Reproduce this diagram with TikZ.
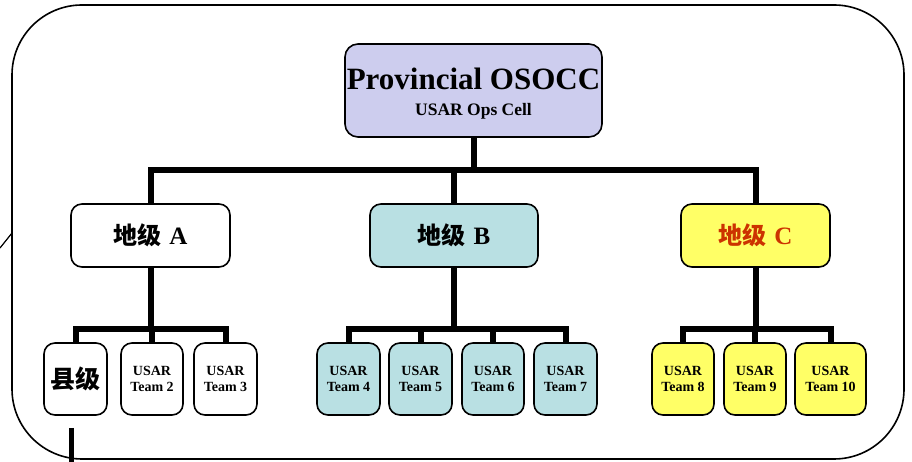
\documentclass[tikz,border=0pt]{standalone}
\usepackage{fontspec}
\setmainfont{Liberation Serif}
\newfontfamily\cjk{Noto Sans CJK SC}
\newcommand{\lvltxt}[1]{{\fontsize{24}{26}\selectfont\cjk\bfseries 地级}\hspace{8pt}{\fontsize{25}{26}\selectfont #1}}
\begin{document}
\begin{tikzpicture}[x=1pt,y=1pt,
  box/.style={draw=black,line width=1.6pt,rounded corners=11pt,inner sep=0pt,align=center,font=\bfseries},
  topbox/.style={box,fill=lavbox,minimum width=257pt,minimum height=93pt,rounded corners=13pt,font=\bfseries\fontsize{17.5}{26}\selectfont},
  midbox/.style={box,minimum height=63pt},
  teambox/.style={box,minimum height=72pt,font=\bfseries\fontsize{14}{16}\selectfont},
  conn/.style={line width=6pt,line cap=butt,line join=miter},
  thinconn/.style={line width=5pt},
  outer/.style={draw=black,line width=1.6pt,rounded corners=70pt}]
\definecolor{lavbox}{HTML}{CDCDEE}
\definecolor{tealbox}{HTML}{B9E0E3}
\definecolor{yelbox}{HTML}{FFFF66}
\definecolor{redtxt}{HTML}{CC3300}
\useasboundingbox (0,0) rectangle (912,462);
\fill[white] (0,0) rectangle (912,462);
% outer frame
\draw[outer] (12,3) rectangle (904,457);
\coordinate (s1) at (0,214);
\coordinate (s2) at (12,229);
\draw[line width=1.2pt] (s1) -- (s2);
% nodes
\node[topbox] (top) at (473.5,371.5) {\rule{0pt}{27pt}{\fontsize{31}{26}\selectfont Provincial OSOCC}\\{USAR Ops Cell}};
\node[midbox,fill=white,minimum width=159pt] (A) at (150.5,226.5) {\lvltxt{A}};
\node[midbox,fill=tealbox,minimum width=168pt] (B) at (454,226.5) {\lvltxt{B}};
\node[midbox,fill=yelbox,minimum width=149pt,text=redtxt] (C) at (755.5,226.5) {\lvltxt{C}};
\node[teambox,fill=white,minimum width=63pt] (X) at (75.5,83) {\cjk\bfseries\fontsize{25}{27}\selectfont 县级};
\node[teambox,fill=white,minimum width=62pt] (T2) at (152,83) {USAR\\Team 2};
\node[teambox,fill=white,minimum width=63pt] (T3) at (225.5,83) {USAR\\Team 3};
\node[teambox,fill=tealbox,minimum width=63pt] (T4) at (348.5,83) {USAR\\Team 4};
\node[teambox,fill=tealbox,minimum width=63pt] (T5) at (420.5,83) {USAR\\Team 5};
\node[teambox,fill=tealbox,minimum width=62pt] (T6) at (493,83) {USAR\\Team 6};
\node[teambox,fill=tealbox,minimum width=63pt] (T7) at (565.5,83) {USAR\\Team 7};
\node[teambox,fill=yelbox,minimum width=62pt] (T8) at (683,83) {USAR\\Team 8};
\node[teambox,fill=yelbox,minimum width=62pt] (T9) at (755,83) {USAR\\Team 9};
\node[teambox,fill=yelbox,minimum width=71pt] (T10) at (830.5,83) {USAR\\Team 10};
% bar levels
\coordinate (bar1) at (0,292);
\coordinate (bar2) at (0,133);
% level 1 -> 2
\draw[conn] (top.south) -- (top.south |- bar1);
\draw[conn] (A.north) -- (A.north |- bar1) -- (C.north |- bar1) -- (C.north);
\draw[conn] (B.north) -- (B.north |- bar1);
% A group
\draw[conn] (A.south) -- (A.south |- bar2);
\draw[conn] (X.north) -- (X.north |- bar2) -- (T3.north |- bar2) -- (T3.north);
\draw[conn] (T2.north) -- (T2.north |- bar2);
% B group
\draw[conn] (B.south) -- (B.south |- bar2);
\draw[conn] (T4.north) -- (T4.north |- bar2) -- (T7.north |- bar2) -- (T7.north);
\draw[conn] (T5.north) -- (T5.north |- bar2);
\draw[conn] (T6.north) -- (T6.north |- bar2);
% C group
\draw[conn] (C.south) -- (C.south |- bar2);
\draw[conn] (T8.north) -- (T8.north |- bar2) -- (T10.north |- bar2) -- (T10.north);
\draw[conn] (T9.north) -- (T9.north |- bar2);
% stray line below county box
\coordinate (x1) at (71,34);
\coordinate (x2) at (71,0);
\draw[thinconn] (x1) -- (x2);
\end{tikzpicture}
\end{document}
